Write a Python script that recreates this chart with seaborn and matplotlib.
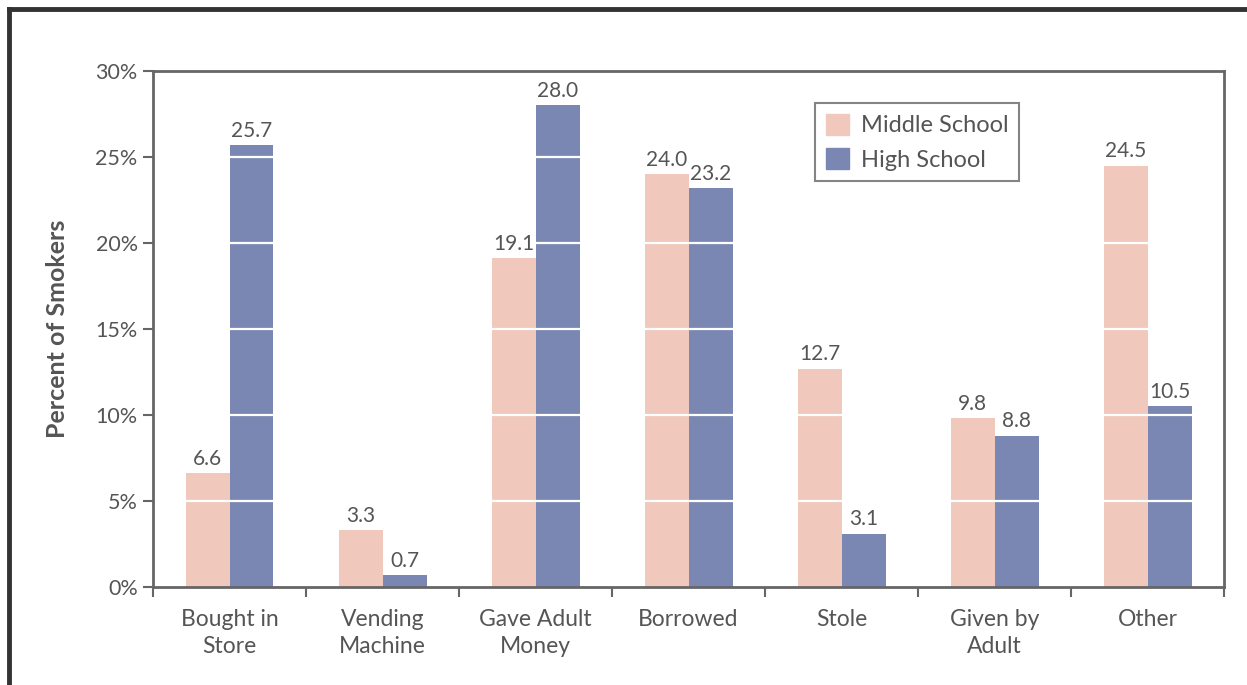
import matplotlib
matplotlib.use("Agg")
import matplotlib.pyplot as plt
from matplotlib.lines import Line2D
import seaborn as sns
import pandas as pd

categories = ["Bought in\nStore", "Vending\nMachine", "Gave Adult\nMoney", "Borrowed",
              "Stole", "Given by\nAdult", "Other"]
middle_school = [6.6, 3.3, 19.1, 24.0, 12.7, 9.8, 24.5]
high_school = [25.7, 0.7, 28.0, 23.2, 3.1, 8.8, 10.5]
groups = ["Middle School", "High School"]
y_ticks = [0, 5, 10, 15, 20, 25, 30]

df = pd.DataFrame({
    "source": categories * 2,
    "pct": middle_school + high_school,
    "group": [groups[0]] * len(categories) + [groups[1]] * len(categories),
})

sns.set_theme(style="white")
plt.rcParams["font.family"] = ["Lato", "DejaVu Sans"]
text_color = "#555555"
spine_color = "#666666"
colors = ["#F0C8BC", "#7B87B3"]

fig = plt.figure(figsize=(12.47, 6.85), dpi=100)
ax = fig.add_axes([0.1227, 0.1431, 0.8589, 0.7533])

sns.barplot(data=df, x="source", y="pct", hue="group", order=categories,
            hue_order=groups, palette=colors, width=0.575,
            saturation=1, linewidth=0, ax=ax, zorder=1)

ax.set_ylim(0, 30)
ax.set_xlim(-0.5, len(categories) - 0.5)
ax.set_yticks(y_ticks)
ax.set_yticklabels([f"{t}%" for t in y_ticks])
ax.set_xlabel("")
ax.set_ylabel("Percent of Smokers", fontsize=18, fontweight="bold",
              color=text_color, labelpad=19)

# white reference lines drawn across the bars
for t in y_ticks[1:-1]:
    ax.axhline(t, color="white", lw=1.6, zorder=2)

for cont in ax.containers:
    ax.bar_label(cont, fmt="%.1f", padding=3, fontsize=15, color=text_color)

# x ticks at category boundaries, labels centered underneath
ax.set_xticks([i - 0.5 for i in range(len(categories) + 1)], minor=False)
ax.set_xticklabels([""] * (len(categories) + 1))
ax.set_xticks(range(len(categories)), minor=True)
ax.set_xticklabels(categories, minor=True, fontsize=16.5, color=text_color,
                   linespacing=1.35)
ax.tick_params(axis="x", which="minor", length=0, pad=16)
ax.tick_params(axis="x", which="major", length=7, width=1.5, color=spine_color,
               direction="out", bottom=True)
ax.tick_params(axis="y", length=7, width=1.5, color=spine_color, direction="out",
               left=True, labelsize=15.5, labelcolor=text_color, pad=4)

for s in ax.spines.values():
    s.set_visible(True)
    s.set_color(spine_color)
    s.set_linewidth(2)

ax.legend_.remove()
handles = [plt.Rectangle((0, 0), 1, 1, color=c) for c in colors]
leg = ax.legend(handles, groups, loc="upper left", bbox_to_anchor=(0.618, 0.938),
                fontsize=17, frameon=True, fancybox=False, edgecolor=spine_color,
                handlelength=1.0, handleheight=1.0, handletextpad=0.5,
                borderpad=0.45, labelspacing=0.5, borderaxespad=0)
leg.get_frame().set_linewidth(1.5)
for txt in leg.get_texts():
    txt.set_color(text_color)

# dark outer frame along the top and left of the figure
fig.add_artist(Line2D([9 / 1247, 1], [1 - 9 / 685, 1 - 9 / 685],
                      transform=fig.transFigure, color="#333333", lw=3.5,
                      solid_capstyle="projecting"))
fig.add_artist(Line2D([9 / 1247, 9 / 1247], [0, 1 - 9 / 685],
                      transform=fig.transFigure, color="#333333", lw=3.5,
                      solid_capstyle="projecting"))

fig.savefig("out.png", dpi=100)
